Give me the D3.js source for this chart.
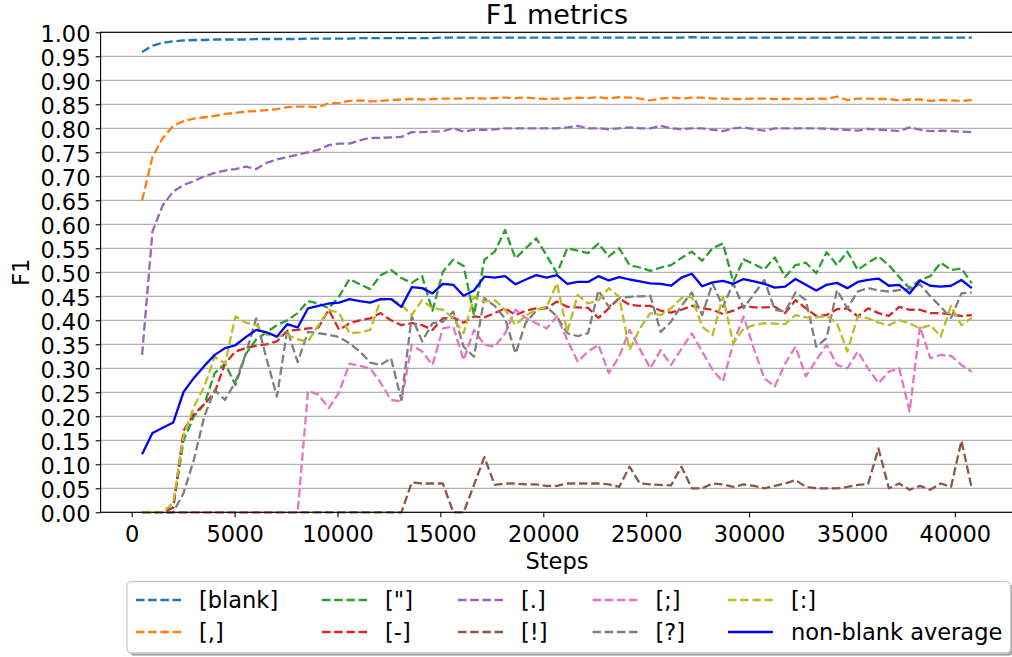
<!DOCTYPE html>
<html>
<head>
<meta charset="utf-8">
<script src="https://cdn.jsdelivr.net/npm/d3@7"></script>
<style>
  html, body { margin: 0; padding: 0; background: #ffffff; }
  svg { display: block; font-family: "DejaVu Sans", sans-serif; }
</style>
</head>
<body>
<svg id="chart" width="1012" height="657"></svg>
<script>
// ---- data -------------------------------------------------------------
const steps = [504, 1008, 1512, 2016, 2520, 3024, 3528, 4032, 4536, 5040,
  5544, 6048, 6552, 7056, 7560, 8064, 8568, 9072, 9576, 10080,
  10584, 11088, 11592, 12096, 12600, 13104, 13608, 14112, 14616, 15120,
  15624, 16128, 16632, 17136, 17640, 18144, 18648, 19152, 19656, 20160,
  20664, 21168, 21672, 22176, 22680, 23184, 23688, 24192, 24696, 25200,
  25704, 26208, 26712, 27216, 27720, 28224, 28728, 29232, 29736, 30240,
  30744, 31248, 31752, 32256, 32760, 33264, 33768, 34272, 34776, 35280,
  35784, 36288, 36792, 37296, 37800, 38304, 38808, 39312, 39816, 40320, 40824];

const f1Blank = [0.959, 0.972, 0.978, 0.981, 0.983, 0.984, 0.984, 0.985, 0.985, 0.985,
  0.985, 0.986, 0.986, 0.986, 0.986, 0.986, 0.987, 0.987, 0.987, 0.987,
  0.987, 0.988, 0.988, 0.988, 0.988, 0.988, 0.988, 0.988, 0.988, 0.989,
  0.989, 0.989, 0.989, 0.989, 0.989, 0.989, 0.989, 0.989, 0.989, 0.989,
  0.989, 0.989, 0.989, 0.989, 0.989, 0.989, 0.989, 0.989, 0.989, 0.989,
  0.989, 0.989, 0.989, 0.990, 0.989, 0.989, 0.989, 0.989, 0.989, 0.989,
  0.989, 0.989, 0.989, 0.989, 0.989, 0.989, 0.989, 0.989, 0.989, 0.989,
  0.989, 0.989, 0.989, 0.989, 0.989, 0.989, 0.989, 0.989, 0.989, 0.989, 0.989];

const f1Comma = [0.650, 0.740, 0.780, 0.805, 0.815, 0.820, 0.823, 0.826, 0.830, 0.832,
  0.835, 0.836, 0.838, 0.840, 0.844, 0.845, 0.845, 0.844, 0.852, 0.853,
  0.857, 0.858, 0.856, 0.857, 0.859, 0.860, 0.861, 0.860, 0.861, 0.862,
  0.862, 0.862, 0.863, 0.862, 0.863, 0.864, 0.863, 0.864, 0.862, 0.861,
  0.862, 0.862, 0.864, 0.863, 0.865, 0.862, 0.865, 0.864, 0.862, 0.858,
  0.862, 0.864, 0.862, 0.864, 0.864, 0.862, 0.862, 0.861, 0.861, 0.862,
  0.862, 0.861, 0.861, 0.862, 0.861, 0.862, 0.861, 0.866, 0.859, 0.862,
  0.862, 0.861, 0.861, 0.858, 0.860, 0.860, 0.857, 0.859, 0.858, 0.857, 0.859];

const f1Quote = [0, 0, 0, 0.010, 0.150, 0.200, 0.225, 0.290, 0.310, 0.265,
  0.330, 0.360, 0.375, 0.390, 0.400, 0.415, 0.440, 0.435, 0.425, 0.450,
  0.486, 0.475, 0.465, 0.494, 0.505, 0.488, 0.478, 0.492, 0.420, 0.501,
  0.526, 0.513, 0.411, 0.526, 0.543, 0.588, 0.529, 0.550, 0.571, 0.535,
  0.498, 0.550, 0.545, 0.540, 0.560, 0.533, 0.550, 0.515, 0.510, 0.503,
  0.510, 0.515, 0.530, 0.543, 0.524, 0.550, 0.560, 0.480, 0.527, 0.517,
  0.506, 0.531, 0.490, 0.515, 0.520, 0.498, 0.542, 0.515, 0.543, 0.505,
  0.520, 0.533, 0.515, 0.490, 0.467, 0.484, 0.492, 0.520, 0.505, 0.508, 0.477];

const f1Dash = [0, 0, 0, 0.010, 0.170, 0.205, 0.225, 0.250, 0.310, 0.335,
  0.342, 0.347, 0.350, 0.356, 0.378, 0.380, 0.383, 0.385, 0.422, 0.380,
  0.394, 0.400, 0.404, 0.415, 0.400, 0.390, 0.394, 0.390, 0.380, 0.404,
  0.406, 0.395, 0.408, 0.406, 0.415, 0.425, 0.411, 0.420, 0.425, 0.425,
  0.439, 0.428, 0.427, 0.426, 0.405, 0.425, 0.446, 0.432, 0.430, 0.430,
  0.420, 0.416, 0.422, 0.430, 0.425, 0.422, 0.413, 0.420, 0.430, 0.427,
  0.427, 0.428, 0.415, 0.442, 0.425, 0.409, 0.411, 0.423, 0.425, 0.408,
  0.425, 0.415, 0.409, 0.428, 0.422, 0.422, 0.415, 0.415, 0.412, 0.409, 0.411];

const f1Period = [0.328, 0.585, 0.640, 0.668, 0.682, 0.690, 0.700, 0.707, 0.712, 0.715,
  0.720, 0.715, 0.728, 0.735, 0.740, 0.745, 0.750, 0.755, 0.765, 0.768,
  0.768, 0.775, 0.780, 0.780, 0.781, 0.782, 0.792, 0.792, 0.793, 0.794,
  0.800, 0.793, 0.797, 0.797, 0.798, 0.800, 0.800, 0.800, 0.800, 0.800,
  0.800, 0.802, 0.805, 0.800, 0.800, 0.798, 0.800, 0.802, 0.800, 0.800,
  0.805, 0.800, 0.798, 0.800, 0.800, 0.797, 0.794, 0.800, 0.802, 0.798,
  0.795, 0.800, 0.800, 0.800, 0.800, 0.800, 0.799, 0.798, 0.797, 0.795,
  0.799, 0.797, 0.796, 0.794, 0.802, 0.797, 0.794, 0.795, 0.794, 0.793, 0.792];

const f1Exclam = [0, 0, 0, 0, 0, 0, 0, 0, 0, 0,
  0, 0, 0, 0, 0, 0, 0, 0, 0, 0,
  0, 0, 0, 0, 0, 0, 0.062, 0.060, 0.060, 0.060,
  0, 0, 0.057, 0.115, 0.057, 0.060, 0.060, 0.058, 0.058, 0.055,
  0.055, 0.060, 0.060, 0.060, 0.060, 0.058, 0.053, 0.095, 0.060, 0.058,
  0.057, 0.056, 0.095, 0.050, 0.050, 0.060, 0.058, 0.053, 0.058, 0.055,
  0.050, 0.055, 0.060, 0.067, 0.053, 0.050, 0.050, 0.050, 0.053, 0.057,
  0.059, 0.133, 0.050, 0.060, 0.047, 0.055, 0.047, 0.060, 0.053, 0.149, 0.050];

const f1Semicolon = [0, 0, 0, 0, 0, 0, 0, 0, 0, 0,
  0, 0, 0, 0, 0, 0, 0.253, 0.245, 0.217, 0.250,
  0.310, 0.305, 0.300, 0.270, 0.234, 0.231, 0.349, 0.335, 0.307, 0.383,
  0.387, 0.317, 0.380, 0.349, 0.345, 0.373, 0.422, 0.405, 0.394, 0.383,
  0.408, 0.359, 0.314, 0.335, 0.349, 0.290, 0.324, 0.380, 0.340, 0.300,
  0.338, 0.307, 0.340, 0.373, 0.335, 0.297, 0.272, 0.352, 0.408, 0.340,
  0.279, 0.262, 0.310, 0.345, 0.283, 0.317, 0.349, 0.307, 0.300, 0.335,
  0.300, 0.269, 0.293, 0.300, 0.210, 0.387, 0.321, 0.328, 0.326, 0.307, 0.293];

const f1Question = [0, 0, 0, 0, 0.040, 0.110, 0.200, 0.255, 0.234, 0.272,
  0.330, 0.404, 0.320, 0.241, 0.380, 0.313, 0.376, 0.373, 0.370, 0.365,
  0.352, 0.335, 0.312, 0.307, 0.321, 0.234, 0.408, 0.356, 0.394, 0.397,
  0.418, 0.345, 0.324, 0.446, 0.430, 0.404, 0.331, 0.395, 0.420, 0.428,
  0.408, 0.373, 0.367, 0.373, 0.462, 0.428, 0.446, 0.449, 0.450, 0.451,
  0.376, 0.397, 0.430, 0.458, 0.411, 0.477, 0.428, 0.477, 0.425, 0.455,
  0.484, 0.422, 0.418, 0.458, 0.442, 0.345, 0.363, 0.463, 0.425, 0.460,
  0.467, 0.462, 0.460, 0.463, 0.465, 0.475, 0.450, 0.428, 0.405, 0.456, 0.458];

const f1Colon = [0, 0, 0, 0.020, 0.160, 0.220, 0.262, 0.324, 0.310, 0.408,
  0.395, 0.390, 0.370, 0.366, 0.370, 0.360, 0.356, 0.390, 0.422, 0.415,
  0.373, 0.375, 0.380, 0.442, 0.446, 0.432, 0.411, 0.442, 0.425, 0.422,
  0.404, 0.373, 0.449, 0.439, 0.442, 0.422, 0.390, 0.410, 0.422, 0.428,
  0.477, 0.376, 0.453, 0.435, 0.442, 0.467, 0.449, 0.338, 0.383, 0.415,
  0.411, 0.425, 0.446, 0.449, 0.387, 0.369, 0.449, 0.352, 0.383, 0.390,
  0.394, 0.393, 0.392, 0.411, 0.406, 0.406, 0.409, 0.394, 0.335, 0.408,
  0.404, 0.395, 0.390, 0.400, 0.394, 0.383, 0.390, 0.366, 0.430, 0.390, 0.405];

const f1Average = [0.121, 0.165, 0.176, 0.187, 0.251, 0.280, 0.305, 0.328, 0.342, 0.348,
  0.365, 0.380, 0.375, 0.366, 0.392, 0.385, 0.425, 0.430, 0.435, 0.437,
  0.444, 0.440, 0.437, 0.444, 0.444, 0.428, 0.469, 0.467, 0.456, 0.476,
  0.474, 0.451, 0.462, 0.491, 0.489, 0.492, 0.475, 0.485, 0.494, 0.489,
  0.494, 0.476, 0.480, 0.480, 0.492, 0.483, 0.490, 0.485, 0.481, 0.477,
  0.476, 0.472, 0.489, 0.497, 0.471, 0.479, 0.482, 0.476, 0.486, 0.481,
  0.476, 0.468, 0.470, 0.486, 0.474, 0.462, 0.474, 0.478, 0.467, 0.480,
  0.484, 0.487, 0.472, 0.474, 0.456, 0.483, 0.472, 0.470, 0.472, 0.484, 0.467];

const seriesLabels = ["[blank]", "[,]", "[\"]", "[-]", "[.]", "[!]", "[;]", "[?]", "[:]", "non-blank average"];
const seriesColors = ["#1f77b4", "#ff7f0e", "#2ca02c", "#d62728", "#9467bd", "#8c564b", "#e377c2", "#7f7f7f", "#bcbd22", "#0000ff"];
const seriesDashed = [true, true, true, true, true, true, true, true, true, false];
const seriesValues = [f1Blank, f1Comma, f1Quote, f1Dash, f1Period, f1Exclam, f1Semicolon, f1Question, f1Colon, f1Average];

const xTickValues = [0, 5000, 10000, 15000, 20000, 25000, 30000, 35000, 40000];
const yTickValues = [0, 0.05, 0.10, 0.15, 0.20, 0.25, 0.30, 0.35, 0.40, 0.45, 0.50,
  0.55, 0.60, 0.65, 0.70, 0.75, 0.80, 0.85, 0.90, 0.95, 1.00];

// ---- layout -----------------------------------------------------------
const FONT = "DejaVu Sans";
const plot = { left: 100.6, right: 1013.3, top: 32.3, bottom: 512.3 };
const LW = 2.3;
const DASH = `${(3.7 * LW).toFixed(2)},${(1.6 * LW).toFixed(2)}`;

const svg = d3.select("#chart");

const [xmin, xmax] = d3.extent(steps);
const pad = (xmax - xmin) * 0.05;
const x = d3.scaleLinear().domain([xmin - pad, xmax + pad]).range([plot.left, plot.right]);
const y = d3.scaleLinear().domain([0, 1]).range([plot.bottom, plot.top]);

// horizontal grid
svg.append("g")
  .selectAll("line")
  .data(yTickValues)
  .join("line")
  .attr("x1", plot.left).attr("x2", plot.right)
  .attr("y1", d => y(d)).attr("y2", d => y(d))
  .attr("stroke", "#b0b0b0")
  .attr("stroke-width", 1.2);

// series
const line = d3.line()
  .x((d, i) => x(steps[i]))
  .y(d => y(d));

const linesG = svg.append("g");
seriesValues.forEach((vals, s) => {
  linesG.append("path")
    .datum(vals)
    .attr("d", line)
    .attr("fill", "none")
    .attr("stroke", seriesColors[s])
    .attr("stroke-width", LW)
    .attr("stroke-linejoin", "round")
    .attr("stroke-dasharray", seriesDashed[s] ? DASH : null);
});

// spines
svg.append("rect")
  .attr("x", plot.left).attr("y", plot.top)
  .attr("width", plot.right - plot.left).attr("height", plot.bottom - plot.top)
  .attr("fill", "none").attr("stroke", "#000").attr("stroke-width", 1.1);

// axes
const yAxis = d3.axisLeft(y)
  .tickValues(yTickValues)
  .tickFormat(d3.format(".2f"))
  .tickSizeInner(4.9).tickSizeOuter(0).tickPadding(5.2);
const gy = svg.append("g").attr("transform", `translate(${plot.left},0)`).call(yAxis);
gy.select(".domain").remove();
gy.selectAll(".tick line").attr("stroke", "#000").attr("stroke-width", 1.1);
gy.selectAll(".tick text")
  .attr("font-family", FONT).attr("font-size", 22.5).attr("fill", "#000")
  .attr("dy", "0.43em");

const xAxis = d3.axisBottom(x)
  .tickValues(xTickValues)
  .tickFormat(d3.format("d"))
  .tickSizeInner(4.9).tickSizeOuter(0).tickPadding(8.5);
const gx = svg.append("g").attr("transform", `translate(0,${plot.bottom})`).call(xAxis);
gx.select(".domain").remove();
gx.selectAll(".tick line").attr("stroke", "#000").attr("stroke-width", 1.1);
gx.selectAll(".tick text")
  .attr("font-family", FONT).attr("font-size", 22.5).attr("fill", "#000");

// titles
const cx = (plot.left + plot.right) / 2;
svg.append("text")
  .attr("x", cx).attr("y", 24)
  .attr("text-anchor", "middle")
  .attr("font-family", FONT).attr("font-size", 27)
  .text("F1 metrics");

svg.append("text")
  .attr("x", cx).attr("y", 569)
  .attr("text-anchor", "middle")
  .attr("font-family", FONT).attr("font-size", 22.5)
  .text("Steps");

svg.append("text")
  .attr("transform", `translate(29,${(plot.top + plot.bottom) / 2}) rotate(-90)`)
  .attr("text-anchor", "middle")
  .attr("font-family", FONT).attr("font-size", 22.5)
  .text("F1");

// legend
const leg = { x: 127, y: 581.5, w: 883.5, h: 71.5 };
svg.append("rect")
  .attr("x", leg.x + 2.8).attr("y", leg.y + 2.8)
  .attr("width", leg.w).attr("height", leg.h)
  .attr("rx", 4.5)
  .attr("fill", "#a9a9a9");
svg.append("rect")
  .attr("x", leg.x).attr("y", leg.y)
  .attr("width", leg.w).attr("height", leg.h)
  .attr("rx", 4.5)
  .attr("fill", "#ffffff")
  .attr("stroke", "#cccccc").attr("stroke-width", 1.4);

const colX = [136, 322, 458, 592.5, 728];
const rowY = [600, 632];
seriesLabels.forEach((label, s) => {
  const col = Math.floor(s / 2), row = s % 2;
  const hx = colX[col], hy = rowY[row];
  svg.append("line")
    .attr("x1", hx).attr("x2", hx + 45)
    .attr("y1", hy).attr("y2", hy)
    .attr("stroke", seriesColors[s])
    .attr("stroke-width", LW)
    .attr("stroke-dasharray", seriesDashed[s] ? DASH : null);
  svg.append("text")
    .attr("x", hx + 63).attr("y", hy + 8)
    .attr("font-family", FONT).attr("font-size", 22.5)
    .attr("fill", "#000")
    .text(label);
});
</script>
</body>
</html>
